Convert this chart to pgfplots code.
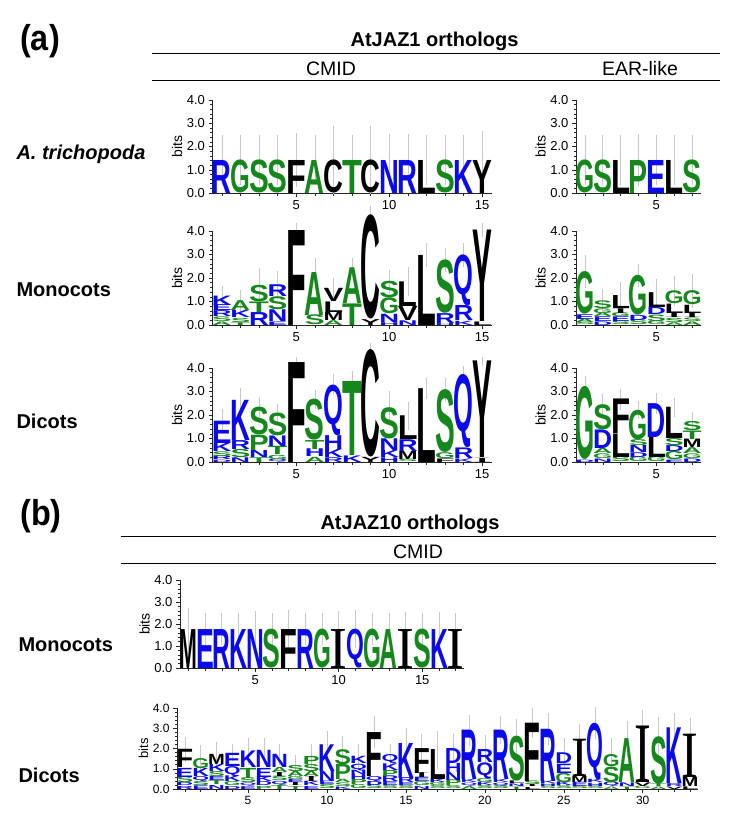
\documentclass[border=0pt]{standalone}
\usepackage{graphicx}
\usepackage{pgfplots}
\pgfplotsset{compat=1.18}
\usepackage{pgfplotstable}
\usepackage{fontspec}
\setmainfont{Liberation Sans}
\newfontfamily\serifI{Liberation Serif}
\newfontfamily\narrowfont{Liberation Sans}[FakeStretch=0.9]
\definecolor{lblue}{RGB}{10,10,235}
\definecolor{lgreen}{RGB}{22,135,28}
\definecolor{ebar}{RGB}{200,200,200}

\def\lcR{lblue}\def\lcK{lblue}\def\lcH{lblue}\def\lcD{lblue}\def\lcE{lblue}\def\lcN{lblue}\def\lcQ{lblue}
\def\lcG{lgreen}\def\lcS{lgreen}\def\lcT{lgreen}\def\lcA{lgreen}\def\lcP{lgreen}
\def\lcF{black}\def\lcC{black}\def\lcL{black}\def\lcY{black}\def\lcM{black}\def\lcV{black}\def\lcI{black}\def\lcW{black}
\def\lgI{{\serifI I}}
\newcommand\logoglyph[1]{\ifcsname lg#1\endcsname\csname lg#1\endcsname\else\bfseries #1\fi}
\def\splitmeta#1/#2\relax{\def\LL{#1}\def\hh{#2}}
\newcommand\logoletter{%
  \edef\tmpm{\pgfplotspointmeta}%
  \expandafter\splitmeta\tmpm\relax
  \pgfmathsetlengthmacro\LH{max(\hh,0.02)*\yunit}%
  \resizebox*{\lw}{\LH}{\color{\csname lc\LL\endcsname}\logoglyph{\LL}}%
}
\newcommand\addmeta[1]{%
  \pgfplotstablecreatecol[create col/assign/.code={%
    \edef\entry{\thisrow{l}/\thisrow{h}}%
    \pgfkeyslet{/pgfplots/table/create col/next content}\entry}]{m}{#1}}

\pgfplotsset{
  logo/.style={
    scale only axis, clip=false,
    axis x line*=bottom, axis y line*=left,
    axis line style={line width=0.6pt, black!85},
    ymin=0, ymax=4,
    ytick={0,1,2,3,4},
    yticklabels={0.0,1.0,2.0,3.0,4.0},
    minor y tick num=4,
    tick style={line width=0.5pt, black!85},
    major tick length=4pt, minor tick length=2.5pt,
    tick align=outside,
    ylabel={bits},
    ylabel style={font=\fontsize{14}{14}\selectfont, inner sep=1pt},
    tick label style={font=\fontsize{13}{13}\selectfont},
    /pgf/number format/assume math mode=true,
  },
  letters/.style={draw=none, mark=none, point meta=explicit symbolic,
    nodes near coords={\logoletter},
    every node near coord/.style={anchor=south, inner sep=0pt, outer sep=0pt}},
  ebars/.style={draw=none, mark=none,
    error bars/.cd, y dir=both, y explicit,
    error bar style={draw=ebar, line width=0.6pt},
    error mark options={draw=ebar, line width=0.6pt, mark size=2pt}},
}

% ---------- (a) A. trichopoda CMID
\pgfplotstableread{
x y h l
1 0 1.42 R
2 0 1.42 G
3 0 1.42 S
4 0 1.42 S
5 0 1.42 F
6 0 1.42 A
7 0 1.42 C
8 0 1.42 T
9 0 1.42 C
10 0 1.42 N
11 0 1.42 R
12 0 1.42 L
13 0 1.42 S
14 0 1.42 K
15 0 1.42 Y
}\tAa
\pgfplotstableread{
x t e
1 1.42 1.00
2 1.42 1.00
3 1.42 1.00
4 1.42 1.00
5 1.42 1.08
6 1.42 1.00
7 1.42 1.38
8 1.42 1.00
9 1.42 1.38
10 1.42 1.05
11 1.42 1.03
12 1.42 1.00
13 1.42 1.00
14 1.42 1.00
15 1.42 1.18
}\eAa
% ---------- (a) A. trichopoda EAR
\pgfplotstableread{
x y h l
1 0 1.42 G
2 0 1.42 S
3 0 1.42 L
4 0 1.42 P
5 0 1.42 E
6 0 1.42 L
7 0 1.42 S
}\tAb
\pgfplotstableread{
x t e
1 1.42 1.00
2 1.42 1.00
3 1.42 1.00
4 1.42 1.05
5 1.42 1.00
6 1.42 1.00
7 1.42 1.00
}\eAb
% ---------- (a) Monocots CMID
\pgfplotstableread{
x y h l
1 0 0.15 A
1 0.15 0.20 S
1 0.35 0.25 R
1 0.60 0.25 E
1 0.85 0.40 K
2 0 0.12 T
2 0.12 0.18 S
2 0.30 0.30 K
2 0.60 0.42 A
3 0 0.55 R
3 0.55 0.45 T
3 1.00 0.70 S
4 0 0.15 E
4 0.15 0.50 N
4 0.65 0.55 S
4 1.20 0.50 R
5 0 4.04 F
6 0 0.42 S
6 0.42 1.83 A
7 0 0.20 A
7 0.20 0.35 M
7 0.55 0.45 L
7 1.00 0.56 V
8 0 0.92 T
8 0.92 1.52 A
9 0 0.25 Y
9 0.25 4.43 C
10 0 0.12 H
10 0.12 0.35 N
10 0.47 0.68 G
10 1.15 0.70 S
11 0 0.20 N
11 0.20 0.60 V
11 0.80 1.05 L
12 0 2.98 L
13 0 0.08 H
13 0.08 0.42 R
13 0.50 2.27 S
14 0 0.18 K
14 0.18 0.64 R
14 0.82 2.16 Q
15 0 0.15 L
15 0.15 3.89 Y
}\tBa
\pgfplotstableread{
x t e
1 1.25 0.31
2 1.02 0.40
3 1.70 0.64
4 1.70 0.50
5 4.04 0.22
6 2.25 0.52
7 1.56 0.35
8 2.44 0.33
9 4.68 0.30
10 1.85 0.42
11 1.85 0.53
12 2.98 0.42
13 2.77 0.42
14 2.98 0.42
15 4.04 0.22
}\eBa
% ---------- (a) Monocots EAR
\pgfplotstableread{
x y h l
1 0 0.10 S
1 0.10 0.15 A
1 0.25 0.20 E
1 0.45 1.81 G
2 0 0.15 D
2 0.15 0.20 E
2 0.35 0.15 A
2 0.50 0.20 G
2 0.70 0.33 S
3 0 0.15 S
3 0.15 0.20 E
3 0.35 0.15 G
3 0.50 0.20 I
3 0.70 0.55 L
4 0 0.20 S
4 0.20 0.22 D
4 0.42 1.69 G
5 0 0.15 G
5 0.15 0.28 S
5 0.43 0.30 D
5 0.73 0.63 L
6 0 0.12 A
6 0.12 0.18 S
6 0.30 0.20 I
6 0.50 0.40 L
6 0.90 0.55 G
7 0 0.15 A
7 0.15 0.15 S
7 0.30 0.20 I
7 0.50 0.35 L
7 0.85 0.60 G
}\tBb
\pgfplotstableread{
x t e
1 2.26 0.62
2 1.03 0.40
3 1.25 0.48
4 2.11 0.40
5 1.36 0.50
6 1.45 0.55
7 1.45 0.62
}\eBb
% ---------- (a) Dicots CMID
\pgfplotstableread{
x y h l
1 0 0.10 D
1 0.10 0.15 R
1 0.25 0.20 S
1 0.45 0.35 K
1 0.80 0.95 E
2 0 0.20 N
2 0.20 0.35 S
2 0.55 0.38 R
2 0.93 1.71 K
3 0 0.20 T
3 0.20 0.30 N
3 0.50 0.65 P
3 1.15 1.18 S
4 0 0.12 Q
4 0.12 0.18 G
4 0.30 0.35 T
4 0.65 0.45 N
4 1.10 0.97 S
5 0 4.25 F
6 0 0.22 A
6 0.22 0.33 H
6 0.55 0.38 T
6 0.93 1.74 S
7 0 0.20 R
7 0.20 0.35 K
7 0.55 0.59 H
7 1.14 2.15 Q
8 0 0.28 K
8 0.28 3.15 T
9 0 0.22 Y
9 0.22 4.57 C
10 0 0.20 H
10 0.20 0.30 K
10 0.50 0.50 N
10 1.00 1.33 S
11 0 0.10 S
11 0.10 0.35 M
11 0.45 0.50 R
11 0.95 1.01 L
12 0 3.14 L
13 0 0.15 F
13 0.15 0.25 G
13 0.40 2.67 S
14 0 0.15 K
14 0.15 0.45 R
14 0.60 3.11 Q
15 0 0.18 I
15 0.18 4.11 Y
}\tCa
\pgfplotstableread{
x t e
1 1.75 0.40
2 2.64 0.43
3 2.33 0.34
4 2.07 0.32
5 4.25 0.12
6 2.67 0.33
7 3.29 0.35
8 3.43 0.36
9 4.79 0.20
10 2.33 0.60
11 1.96 0.50
12 3.14 0.36
13 3.07 0.43
14 3.71 0.30
15 4.29 0.10
}\eCa
% ---------- (a) Dicots EAR
\pgfplotstableread{
x y h l
1 0 0.10 D
1 0.10 3.11 G
2 0 0.15 N
2 0.15 0.20 G
2 0.35 0.22 A
2 0.57 0.79 D
2 1.36 1.07 S
3 0 0.20 S
3 0.20 1.00 L
3 1.20 1.47 F
4 0 0.20 G
4 0.20 0.20 D
4 0.40 0.30 N
4 0.70 0.25 S
4 0.95 1.26 G
5 0 0.20 G
5 0.20 0.86 L
5 1.06 1.44 D
6 0 0.10 E
6 0.10 0.35 G
6 0.45 0.25 D
6 0.70 0.30 S
6 1.00 1.33 L
7 0 0.15 D
7 0.15 0.20 G
7 0.35 0.25 A
7 0.60 0.36 M
7 0.96 0.36 T
7 1.32 0.39 S
}\tCb
\pgfplotstableread{
x t e
1 3.21 0.36
2 2.43 0.36
3 2.67 0.37
4 2.21 0.30
5 2.50 0.36
6 2.33 0.31
7 1.71 0.32
}\eCb
% ---------- (b) Monocots CMID
\pgfplotstableread{
x y h l
1 0 1.77 M
2 0 1.77 E
3 0 1.77 R
4 0 1.77 K
5 0 1.77 N
6 0 1.77 S
7 0 1.77 F
8 0 1.77 R
9 0 1.77 G
10 0 1.77 I
11 0 1.77 Q
12 0 1.77 G
13 0 1.77 A
14 0 1.77 I
15 0 1.77 S
16 0 1.77 K
17 0 1.77 I
}\tDa
\pgfplotstableread{
x t e
1 1.77 0.87
2 1.77 0.65
3 1.77 0.65
4 1.77 0.65
5 1.77 0.73
6 1.77 0.65
7 1.77 0.78
8 1.77 0.65
9 1.77 0.65
10 1.77 0.73
11 1.77 0.78
12 1.77 0.65
13 1.77 0.65
14 1.77 0.70
15 1.77 0.65
16 1.77 0.70
17 1.77 0.65
}\eDa
% ---------- (b) Dicots CMID
\pgfplotstableread{
x y h l
1 0 0.15 R
1 0.15 0.15 D
1 0.30 0.29 S
1 0.59 0.45 E
1 1.04 0.90 F
2 0 0.18 E
2 0.18 0.20 S
2 0.38 0.25 Q
2 0.63 0.40 K
2 1.03 0.50 G
3 0 0.20 N
3 0.20 0.20 T
3 0.40 0.20 E
3 0.60 0.25 S
3 0.85 0.35 K
3 1.20 0.50 M
4 0 0.15 D
4 0.15 0.20 G
4 0.35 0.28 K
4 0.63 0.50 Q
4 1.13 0.65 E
5 0 0.14 E
5 0.14 0.16 Q
5 0.30 0.24 S
5 0.54 0.50 T
5 1.04 0.82 K
6 0 0.15 P
6 0.15 0.20 D
6 0.35 0.24 K
6 0.59 0.45 E
6 1.04 0.85 N
7 0 0.20 T
7 0.20 0.20 Q
7 0.40 0.20 S
7 0.60 0.20 I
7 0.80 0.25 A
7 1.05 0.65 N
8 0 0.15 T
8 0.15 0.15 I
8 0.30 0.15 E
8 0.45 0.15 G
8 0.60 0.25 A
8 0.85 0.30 S
9 0 0.15 E
9 0.15 0.20 K
9 0.35 0.25 I
9 0.60 0.25 A
9 0.85 0.35 S
9 1.20 0.40 P
10 0 0.20 S
10 0.20 0.17 E
10 0.37 0.50 N
10 0.87 1.32 K
11 0 0.12 K
11 0.12 0.18 S
11 0.30 0.16 A
11 0.46 0.74 P
11 1.20 0.74 S
12 0 0.20 G
12 0.20 0.25 P
12 0.45 0.25 H
12 0.70 0.21 N
12 0.91 0.33 Q
12 1.24 0.36 K
13 0 0.18 S
13 0.18 0.20 D
13 0.38 0.25 Q
13 0.63 2.17 F
14 0 0.15 S
14 0.15 0.20 E
14 0.35 0.28 R
14 0.63 0.30 P
14 0.93 0.33 K
14 1.26 0.44 Q
15 0 0.15 S
15 0.15 0.15 E
15 0.30 0.24 R
15 0.54 1.73 K
16 0 0.15 N
16 0.15 0.20 G
16 0.35 0.20 E
16 0.55 0.24 I
16 0.79 1.23 F
17 0 0.15 S
17 0.15 0.15 G
17 0.30 0.16 K
17 0.46 1.48 L
18 0 0.15 S
18 0.15 0.28 P
18 0.43 0.40 N
18 0.83 0.45 H
18 1.28 0.74 D
19 0 0.15 A
19 0.15 0.15 Q
19 0.30 0.16 K
19 0.46 2.44 R
20 0 0.15 S
20 0.15 0.15 K
20 0.30 0.20 G
20 0.50 0.80 Q
20 1.30 0.64 R
21 0 0.15 S
21 0.15 0.15 Q
21 0.30 0.16 K
21 0.46 2.44 R
22 0 0.12 T
22 0.12 0.13 N
22 0.25 0.13 L
22 0.38 2.22 S
23 0 0.10 L
23 0.10 0.10 I
23 0.20 0.18 S
23 0.38 2.88 F
24 0 0.12 S
24 0.12 0.13 H
24 0.25 0.13 K
24 0.38 2.58 R
25 0 0.15 S
25 0.15 0.18 K
25 0.33 0.46 G
25 0.79 0.46 E
25 1.25 0.53 D
26 0 0.12 S
26 0.12 0.21 E
26 0.33 0.30 M
26 0.63 1.84 I
27 0 0.14 S
27 0.14 0.16 H
27 0.30 0.16 K
27 0.46 2.80 Q
28 0 0.12 A
28 0.12 0.21 Q
28 0.33 0.77 S
28 1.10 0.60 G
29 0 0.12 T
29 0.12 0.18 N
29 0.30 2.17 A
30 0 0.12 G
30 0.12 0.18 V
30 0.30 2.79 I
31 0 0.12 A
31 0.12 0.14 T
31 0.26 2.34 S
32 0 0.12 V
32 0.12 0.14 R
32 0.26 2.75 K
33 0 0.13 L
33 0.13 0.46 M
33 0.59 2.14 I
}\tDb
\pgfplotstableread{
x t e
1 1.94 0.53
2 1.53 0.54
3 1.70 0.54
4 1.78 0.32
5 1.86 0.57
6 1.89 0.54
7 1.70 0.44
8 1.15 0.45
9 1.60 0.50
10 2.19 0.60
11 1.94 0.58
12 1.60 0.54
13 2.80 0.70
14 1.70 0.44
15 2.27 0.66
16 2.02 0.58
17 1.94 0.83
18 2.02 0.58
19 2.90 0.66
20 1.94 0.63
21 2.90 0.60
22 2.60 0.74
23 3.26 0.66
24 2.96 0.71
25 1.78 0.65
26 2.47 0.66
27 3.26 0.69
28 1.70 0.73
29 2.47 0.79
30 3.09 0.70
31 2.60 0.86
32 3.01 0.66
33 2.73 0.69
}\eDb

\addmeta\tAa \addmeta\tAb
\addmeta\tBa \addmeta\tBb
\addmeta\tCa \addmeta\tCb
\addmeta\tDa \addmeta\tDb

\begin{document}
\begin{tikzpicture}
\useasboundingbox (0,0) rectangle (729pt,-830pt);

% ---------------- headers (a)
\node[font=\narrowfont\bfseries\fontsize{36}{36}\selectfont] at (40pt,-41pt) {(a)};
\node[font=\bfseries\fontsize{20}{20}\selectfont] at (434.5pt,-41.5pt) {AtJAZ1 orthologs};
\draw[line width=0.8pt] (152pt,-53pt) -- (720pt,-53pt);
\node[font=\fontsize{19.5}{19.5}\selectfont] at (331pt,-68.5pt) {CMID};
\node[font=\fontsize{19.5}{19.5}\selectfont] at (640pt,-68.5pt) {EAR-like};
\draw[line width=0.8pt] (152pt,-80pt) -- (720pt,-80pt);

\node[anchor=west, font=\bfseries\itshape\fontsize{20}{20}\selectfont] at (13pt,-154pt) {A. trichopoda};
\node[anchor=west, font=\bfseries\fontsize{20}{20}\selectfont] at (13pt,-290pt) {Monocots};
\node[anchor=west, font=\bfseries\fontsize{20}{20}\selectfont] at (13pt,-421pt) {Dicots};

% ---------------- headers (b)
\node[font=\narrowfont\bfseries\fontsize{36}{36}\selectfont] at (41pt,-516pt) {(b)};
\node[font=\bfseries\fontsize{20}{20}\selectfont] at (410pt,-524.5pt) {AtJAZ10 orthologs};
\draw[line width=0.8pt] (121pt,-536pt) -- (716pt,-536pt);
\node[font=\fontsize{19.5}{19.5}\selectfont] at (418pt,-551.5pt) {CMID};
\draw[line width=0.8pt] (121pt,-563pt) -- (716pt,-563pt);

\node[anchor=west, font=\bfseries\fontsize{20}{20}\selectfont] at (15pt,-645pt) {Monocots};
\node[anchor=west, font=\bfseries\fontsize{20}{20}\selectfont] at (15pt,-775pt) {Dicots};

% ---------------- (a) row 1
\def\yunit{23.25pt}\def\lw{19.8pt}
\begin{axis}[logo, at={(212.5pt,-193pt)}, anchor=south west, width=279pt, height=93pt,
  xmin=0.5, xmax=15.5, xtick={5,10,15}, minor xtick={1,...,15}]
\addplot[letters] table[x=x,y=y,meta=m] {\tAa};
\addplot[ebars] table[x=x,y=t,y error=e] {\eAa};
\end{axis}
\def\lw{19.1pt}
\begin{axis}[logo, at={(576pt,-193pt)}, anchor=south west, width=125pt, height=93pt,
  xmin=0.5, xmax=7.5, xtick={5}, minor xtick={1,...,7}]
\addplot[letters] table[x=x,y=y,meta=m] {\tAb};
\addplot[ebars] table[x=x,y=t,y error=e] {\eAb};
\end{axis}

% ---------------- (a) row 2
\def\yunit{23.5pt}\def\lw{19.8pt}
\begin{axis}[logo, at={(212.5pt,-325pt)}, anchor=south west, width=279pt, height=94pt,
  xmin=0.5, xmax=15.5, xtick={5,10,15}, minor xtick={1,...,15}]
\addplot[letters] table[x=x,y=y,meta=m] {\tBa};
\addplot[ebars] table[x=x,y=t,y error=e] {\eBa};
\end{axis}
\def\lw{19.1pt}
\begin{axis}[logo, at={(576pt,-325pt)}, anchor=south west, width=125pt, height=94pt,
  xmin=0.5, xmax=7.5, xtick={5}, minor xtick={1,...,7}]
\addplot[letters] table[x=x,y=y,meta=m] {\tBb};
\addplot[ebars] table[x=x,y=t,y error=e] {\eBb};
\end{axis}

% ---------------- (a) row 3
\def\yunit{23.5pt}\def\lw{19.8pt}
\begin{axis}[logo, at={(212.5pt,-462pt)}, anchor=south west, width=279pt, height=94pt,
  xmin=0.5, xmax=15.5, xtick={5,10,15}, minor xtick={1,...,15}]
\addplot[letters] table[x=x,y=y,meta=m] {\tCa};
\addplot[ebars] table[x=x,y=t,y error=e] {\eCa};
\end{axis}
\def\lw{19.1pt}
\begin{axis}[logo, at={(576pt,-462pt)}, anchor=south west, width=125pt, height=94pt,
  xmin=0.5, xmax=7.5, xtick={5}, minor xtick={1,...,7}]
\addplot[letters] table[x=x,y=y,meta=m] {\tCb};
\addplot[ebars] table[x=x,y=t,y error=e] {\eCb};
\end{axis}

% ---------------- (b) monocots
\def\yunit{22pt}\def\lw{17.8pt}
\begin{axis}[logo, at={(180pt,-668pt)}, anchor=south west, width=284pt, height=88pt,
  xmin=0.5, xmax=17.5, xtick={5,10,15}, minor xtick={1,...,17}]
\addplot[letters] table[x=x,y=y,meta=m] {\tDa};
\addplot[ebars] table[x=x,y=t,y error=e] {\eDa};
\end{axis}

% ---------------- (b) dicots
\def\yunit{20.25pt}\def\lw{16.8pt}
\begin{axis}[logo, at={(177pt,-789pt)}, anchor=south west, width=521pt, height=81pt,
  xmin=0.5, xmax=33.5, xtick={5,10,...,30}, minor xtick={1,...,33},
  tick label style={font=\fontsize{12}{12}\selectfont},
  ylabel style={font=\fontsize{13}{13}\selectfont}]
\addplot[letters] table[x=x,y=y,meta=m] {\tDb};
\addplot[ebars] table[x=x,y=t,y error=e] {\eDb};
\end{axis}
\end{tikzpicture}
\end{document}
